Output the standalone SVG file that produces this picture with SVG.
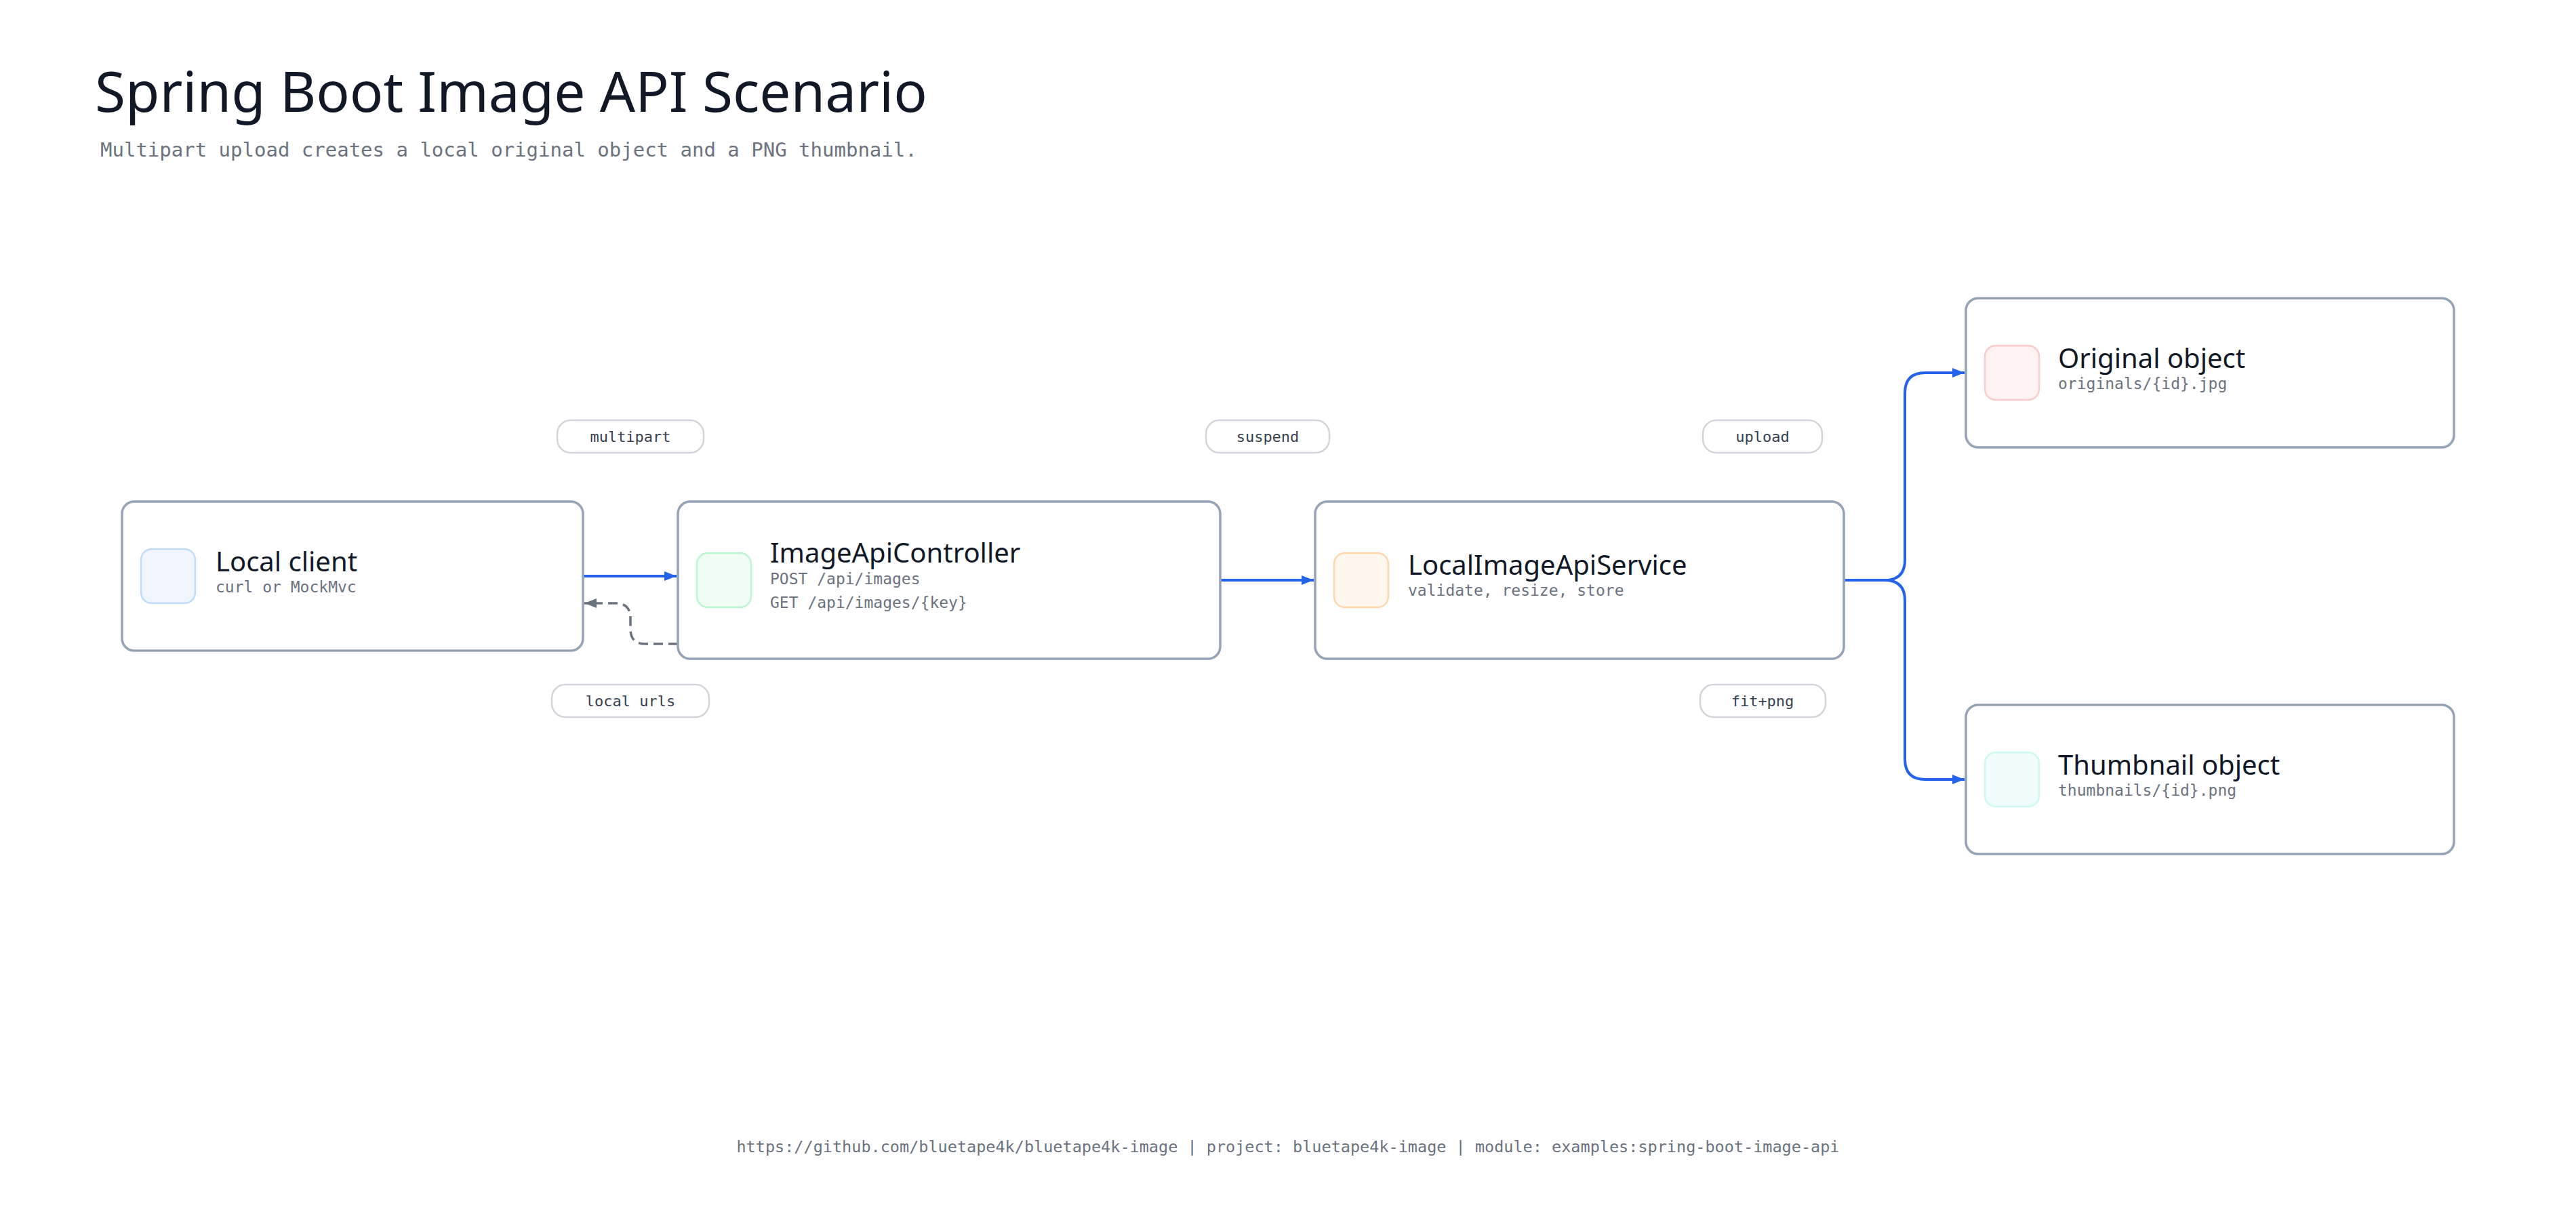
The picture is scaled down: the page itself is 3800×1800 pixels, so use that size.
<svg xmlns="http://www.w3.org/2000/svg" width="3800" height="1800" viewBox="0 0 3800 1800">
<style>
.bg{fill:#ffffff}
.title{font-family:"Noto Sans",sans-serif;font-size:82px;fill:#111827}
.subtitle{font-family:"DejaVu Sans Mono","Liberation Mono",monospace;font-size:29px;fill:#6b7280}
.footer{font-family:"DejaVu Sans Mono","Liberation Mono",monospace;font-size:23.5px;fill:#6b7280}
.box{fill:#ffffff;stroke:#94a3b8;stroke-width:3.5}
.ntitle{font-family:"Noto Sans",sans-serif;font-size:40px;fill:#111827}
.nsub{font-family:"DejaVu Sans Mono","Liberation Mono",monospace;font-size:23px;fill:#6b7280}
.pill{fill:#ffffff;stroke:#d1d5db;stroke-width:2.5}
.ltext{font-family:"DejaVu Sans Mono","Liberation Mono",monospace;font-size:22px;fill:#374151;text-anchor:middle}
.edge{fill:none;stroke:#2563eb;stroke-width:4}
.ret{fill:none;stroke:#6b7280;stroke-width:3.5;stroke-dasharray:14 8}
</style>
<defs>
<marker id="ab" markerUnits="userSpaceOnUse" markerWidth="18" markerHeight="14" refX="18" refY="7" orient="auto"><path d="M0,0 L18,7 L0,14 z" fill="#2563eb"/></marker>
<marker id="ag" markerUnits="userSpaceOnUse" markerWidth="18" markerHeight="14" refX="18" refY="7" orient="auto"><path d="M0,0 L18,7 L0,14 z" fill="#6b7280"/></marker>
</defs>
<rect class="bg" x="0" y="0" width="3800" height="1800"/>
<text class="title" x="140" y="165">Spring Boot Image API Scenario</text>
<text class="subtitle" x="148" y="231">Multipart upload creates a local original object and a PNG thumbnail.</text>

<g id="connectors">
<path class="edge" d="M860 850 L998 850" marker-end="url(#ab)"/>
<path class="edge" d="M1800 856 L1938 856" marker-end="url(#ab)"/>
<path class="edge" d="M2720 856 L2780 856 Q2810 856 2810 826 L2810 580 Q2810 550 2840 550 L2898 550" marker-end="url(#ab)"/>
<path class="edge" d="M2720 856 L2780 856 Q2810 856 2810 886 L2810 1120 Q2810 1150 2840 1150 L2898 1150" marker-end="url(#ab)"/>
<path class="ret" d="M1000 950 L952 950 Q930 950 930 928 L930 912 Q930 890 908 890 L862 890" marker-end="url(#ag)"/>
<g id="edge-labels">
<rect class="pill" x="822" y="620" width="216" height="48" rx="20"/>
<text class="ltext" x="930" y="652">multipart</text>
<rect class="pill" x="1779" y="620" width="182" height="48" rx="20"/>
<text class="ltext" x="1870" y="652">suspend</text>
<rect class="pill" x="2512" y="620" width="176" height="48" rx="20"/>
<text class="ltext" x="2600" y="652">upload</text>
<rect class="pill" x="814" y="1010" width="232" height="48" rx="20"/>
<text class="ltext" x="930" y="1042">local urls</text>
<rect class="pill" x="2508" y="1010" width="185" height="48" rx="20"/>
<text class="ltext" x="2600" y="1042">fit+png</text>
</g>
</g>

<g id="local-client">
<rect class="box" x="180" y="740" width="680" height="220" rx="18"/>
<rect x="208" y="810" width="80" height="80" rx="16" fill="#eff6ff" stroke="#bfdbfe" stroke-width="2.5"/>
<text class="ntitle" x="318" y="843">Local client</text>
<text class="nsub" x="318" y="874">curl or MockMvc</text>
</g>

<g id="image-api-controller">
<rect class="box" x="1000" y="740" width="800" height="232" rx="18"/>
<rect x="1028" y="816" width="80" height="80" rx="16" fill="#f0fdf4" stroke="#bbf7d0" stroke-width="2.5"/>
<text class="ntitle" x="1136" y="830">ImageApiController</text>
<text class="nsub" x="1136" y="862">POST /api/images</text>
<text class="nsub" x="1136" y="897">GET /api/images/{key}</text>
</g>

<g id="local-image-api-service">
<rect class="box" x="1940" y="740" width="780" height="232" rx="18"/>
<rect x="1968" y="816" width="80" height="80" rx="16" fill="#fff7ed" stroke="#fed7aa" stroke-width="2.5"/>
<text class="ntitle" x="2077" y="848">LocalImageApiService</text>
<text class="nsub" x="2077" y="879">validate, resize, store</text>
</g>

<g id="original-object">
<rect class="box" x="2900" y="440" width="720" height="220" rx="18"/>
<rect x="2928" y="510" width="80" height="80" rx="16" fill="#fef2f2" stroke="#fecaca" stroke-width="2.5"/>
<text class="ntitle" x="3036" y="543">Original object</text>
<text class="nsub" x="3036" y="574">originals/{id}.jpg</text>
</g>

<g id="thumbnail-object">
<rect class="box" x="2900" y="1040" width="720" height="220" rx="18"/>
<rect x="2928" y="1110" width="80" height="80" rx="16" fill="#f0fdfa" stroke="#ccfbf1" stroke-width="2.5"/>
<text class="ntitle" x="3036" y="1143">Thumbnail object</text>
<text class="nsub" x="3036" y="1174">thumbnails/{id}.png</text>
</g>

<text class="footer" x="1900" y="1700" text-anchor="middle">https://github.com/bluetape4k/bluetape4k-image | project: bluetape4k-image | module: examples:spring-boot-image-api</text>
</svg>
